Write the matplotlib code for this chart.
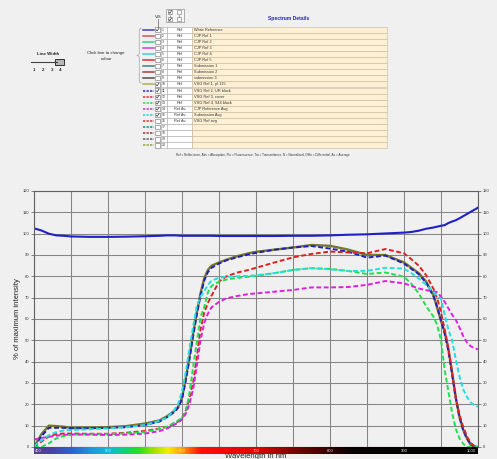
import matplotlib
matplotlib.use('Agg')
import matplotlib.pyplot as plt
from matplotlib.patches import Rectangle, PathPatch
from matplotlib.path import Path
from matplotlib.colors import LinearSegmentedColormap
import numpy as np

plt.rcParams['font.family'] = ['Liberation Sans', 'DejaVu Sans']

# ---------------- data ----------------
wavelength = [400, 410, 420, 430, 440, 450, 475, 500, 525, 550, 570, 580, 590, 595,
              600, 605, 610, 615, 620, 625, 630, 635, 640, 650, 660, 675, 690, 700,
              725, 750, 775, 800, 825, 850, 875, 900, 910, 920, 930, 940, 945, 950,
              955, 960, 965, 970, 975, 980, 985, 990, 995, 1000]

white_reference = [102.5, 101.5, 100.0, 99.2, 99.0, 98.7, 98.5, 98.5, 98.6, 98.8, 99.0, 99.2, 99.2, 99.1,
                   99.0, 99.0, 99.0, 99.0, 99.0, 99.0, 99.0, 99.0, 99.0, 98.9, 98.9, 98.9, 98.9, 98.9,
                   98.9, 99.0, 99.0, 99.2, 99.5, 99.7, 100.1, 100.5, 100.8, 101.4, 102.3, 102.9, 103.3, 103.7,
                   104.0, 105.0, 105.7, 106.3, 107.2, 108.2, 109.2, 110.2, 111.2, 112.2]

vsg_ref1 = [0, 6, 10, 9.8, 9.5, 9.0, 9.0, 9.3, 9.8, 11.0, 12.5, 14.5, 17.0, 19.0,
            23, 32, 42, 53, 63, 72, 79, 83, 85, 86.5, 87.8, 89.5, 90.8, 91.5,
            92.5, 93.5, 94.7, 94.3, 92.5, 90.0, 90.0, 86.5, 84, 81.5, 77.5, 71, 65, 59,
            54, 46, 35, 23, 14, 8, 4, 1, 0.1, 0]

vsg_ref2 = [0, 5, 9, 9, 9, 8.8, 8.8, 9.0, 9.3, 10.3, 12.0, 14.0, 16.5, 18.5,
            22.5, 31, 41, 52, 62, 71, 78, 82, 84, 86, 87.5, 89, 90.3, 91,
            92.5, 93.5, 94.2, 93.0, 91.5, 88.8, 89.7, 86, 83.5, 81, 77, 70.5, 65.5, 59.5,
            53, 45, 34, 23, 14, 8, 4, 1.5, 0.3, 0]

vsg_ref3 = [0, 2.5, 5, 6, 6.3, 6.3, 6.2, 6.2, 6.7, 7.5, 8.7, 9.5, 11, 12,
            13.5, 17, 23, 30, 42, 55, 63, 67.5, 71, 77.5, 80, 81.8, 83, 84,
            86.5, 88.9, 90.5, 91.6, 91.2, 90.8, 92.8, 90.8, 88, 85, 80.5, 74, 69.5, 63,
            55, 46, 35, 23, 15, 9.5, 5, 2, 0.5, 0]

vsg_ref4 = [0, 0, 1.7, 4, 5.2, 5.7, 6, 6, 6.4, 7, 8.5, 9.5, 11.5, 12.5,
            13.5, 16.5, 25, 37.5, 49, 61, 65.5, 72.5, 75.5, 77.5, 78.5, 79.3, 79.8, 80.2,
            81.5, 83, 83.8, 83.5, 82.5, 81.1, 81.8, 79.8, 76.5, 72, 66, 61, 57, 50,
            36, 26, 16, 8.5, 4, 1.5, 0, 0, 0, 0]

submission_avg = [0.5, 3, 5.5, 7, 7.7, 8, 8.3, 8.7, 9.3, 10.3, 12.3, 13.8, 17.5, 20.5,
                  26, 35, 46, 56.4, 66, 70.5, 73, 76, 78, 79.3, 79.8, 80, 80.2, 80.5,
                  81.5, 83, 83.8, 83.3, 82.5, 82.6, 84, 83.6, 81.5, 79, 76, 72.5, 71, 69.5,
                  62, 55, 50, 41, 33, 27, 23.5, 21, 19.5, 18.9]

cjp_reference_avg = [3.5, 4.2, 4.8, 5.3, 5.7, 5.9, 5.8, 5.6, 5.8, 6.3, 7.5, 8.7, 10.5, 11.5,
                     13, 15.5, 20, 27, 38, 50, 58, 62.5, 65.5, 68, 69.7, 70.8, 71.7, 72,
                     72.8, 73.6, 74.8, 74.8, 75, 76, 77.8, 76.7, 75.5, 74.3, 73.5, 73, 72.5, 70.5,
                     68, 65, 62, 59.6, 56, 52, 49, 47.3, 46.3, 45.8]

row_numbers = list(range(1, 21))
row_types = ['Ref'] * 13 + ['Ref Av'] * 3 + [''] * 4
row_names = ['White Reference', 'CJP Ref 1', 'CJP Ref 2', 'CJP Ref 3', 'CJP Ref 4', 'CJP Ref 5',
             'Submission 1', 'Submission 2', 'submission 3', 'VSG Ref 1, pl 115',
             'VSG Ref 2, UR block', 'VSG Ref 3, cover', 'VSG Ref 4, 944 block',
             'CJP Reference Avg', 'Submission Avg', 'VSG Ref avg', '', '', '', '']
row_checked = [1, 0, 0, 0, 0, 0, 0, 0, 0, 1, 1, 1, 1, 1, 1, 0, 0, 0, 0, 0]
row_colors = ['#4040b0', '#e05050', '#40d080', '#d040d0', '#40d0d0', '#e03030',
              '#408080', '#a04040', '#505050', '#b0b050',
              '#3030c0', '#e03030', '#30d060', '#d030d0', '#30d0d0', '#e03030',
              '#308080', '#a03030', '#606060', '#90a040']

y_ticks = list(range(0, 121, 10))
x_grid = list(range(400, 1001, 50))
spectrum_labels = [400, 500, 600, 700, 800, 900, 1000]

# ---------------- figure ----------------
W, H = 497, 459
BG = '#f0f0f0'
fig = plt.figure(figsize=(W / 100, H / 100), dpi=100, facecolor=BG)

ov = fig.add_axes([0, 0, 1, 1])
ov.set_xlim(0, W)
ov.set_ylim(H, 0)
ov.axis('off')

# line width control
ov.text(48, 54, 'Line Width', fontsize=3.2, fontweight='bold', ha='center', va='center', color='#222')
ov.plot([31, 57], [62.3, 62.3], color='#404040', lw=0.8)
ov.add_patch(Rectangle((55, 59.3), 9, 5.7, facecolor='#b8b8b8', edgecolor='#303030', lw=0.7))
for xx, lab in zip([34.3, 42.7, 51.7, 60], ['1', '2', '3', '4']):
    ov.text(xx, 70, lab, fontsize=3.2, fontweight='bold', ha='center', va='center', color='#222')

ov.text(106, 52.7, 'Click line to change', fontsize=3.2, ha='center', va='center', color='#222')
ov.text(107, 59, 'colour', fontsize=3.2, ha='center', va='center', color='#222')

# brace
verts = [(141.5, 28), (139.3, 28), (139.3, 30.5), (139.3, 53), (139.3, 55.5), (136.8, 55.5),
         (139.3, 55.5), (139.3, 58), (139.3, 81), (139.3, 83), (141.5, 83)]
codes = [Path.MOVETO, Path.CURVE3, Path.CURVE3, Path.LINETO, Path.CURVE3, Path.CURVE3,
         Path.CURVE3, Path.CURVE3, Path.LINETO, Path.CURVE3, Path.CURVE3]
ov.add_patch(PathPatch(Path(verts, codes), facecolor='none', edgecolor='#b0b0b0', lw=0.6))

# header
ov.text(158.7, 16.5, 'VIS', fontsize=3, ha='center', va='center', color='#222')
ov.plot([157.7, 157.7], [18.5, 26.5], color='#606060', lw=0.5)
ov.add_patch(Rectangle((165.5, 8.8), 18, 13.2, facecolor='#f8f8f8', edgecolor='#909090', lw=0.5))


def checkbox(x, y, s, checked):
    ov.add_patch(Rectangle((x, y), s, s, facecolor='white', edgecolor='#707070', lw=0.4))
    if checked:
        ov.plot([x + 0.8, x + 1.8, x + s - 0.7], [y + s * 0.55, y + s - 0.8, y + 0.8],
                color='#303030', lw=0.5)


for gx, chk in [(168, 1), (176.8, 0)]:
    checkbox(gx, 10, 4.2, chk)
    ov.plot([gx + 2.1, gx + 2.1], [14.6, 16.6], color='#606060', lw=0.4)
    checkbox(gx, 17.2, 4.2, chk)

ov.text(288.5, 18.3, 'Spectrum Details', fontsize=3.6, fontweight='bold', ha='center',
        va='center', color='#2020c0')

# table rows
row_h = 6.1
for i in range(20):
    top = 26.5 + i * row_h
    cy = top + row_h / 2
    ls = '-' if i < 10 else (0, (1.5, 0.8))
    ov.plot([143, 153.5], [cy, cy], color=row_colors[i], lw=1.1, ls=ls)
    checkbox(155.4, top + 0.9, 4.3, row_checked[i])
    ov.add_patch(Rectangle((161, top), 6, row_h, facecolor='white', edgecolor='#a8a8a8', lw=0.4))
    ov.add_patch(Rectangle((167, top), 25, row_h, facecolor='white', edgecolor='#a8a8a8', lw=0.4))
    ov.add_patch(Rectangle((192, top), 195, row_h, facecolor='#fdf0d4', edgecolor='#c8b898', lw=0.4))
    ov.text(162, cy, str(row_numbers[i]), fontsize=2.5, ha='left', va='center', color='#333')
    ov.text(179.5, cy, row_types[i], fontsize=2.8, ha='center', va='center', color='#333')
    ov.text(193.5, cy, row_names[i], fontsize=2.8, ha='left', va='center', color='#333')

ov.text(263, 155, 'Ref = Reflectance, Abs = Absorption, Flu = Fluorescence, Tra = Transmittance, '
        'N = Normalised, Diffn = Differential, Av = Average', fontsize=2.2, ha='center',
        va='center', color='#333')

# ---------------- main chart ----------------
ax = fig.add_axes([34 / W, 12 / H, 444 / W, 256 / H])
ax.set_facecolor(BG)
ax.set_xlim(400, 1000)
ax.set_ylim(0, 120)
ax.set_xticks(x_grid)
ax.set_xticklabels([])
ax.set_yticks(y_ticks)
ax.grid(True, color='#858585', lw=0.75)
ax.set_axisbelow(True)
ax.tick_params(axis='x', length=0)
ax.tick_params(axis='y', labelsize=3, length=2, width=0.5, pad=1.5, right=True, labelright=True,
               color='#555', labelcolor='#333')
for sp in ax.spines.values():
    sp.set_color('#606060')
    sp.set_linewidth(0.8)

dash = (0, (2.5, 1.3))
ax.plot(wavelength, white_reference, color='#2020c8', lw=1.5)
ax.plot(wavelength, vsg_ref1, color='#77772e', lw=1.7)
ax.plot(wavelength, vsg_ref2, color='#2020b8', lw=1.4, ls=dash)
ax.plot(wavelength, vsg_ref3, color='#e02020', lw=1.4, ls=dash)
ax.plot(wavelength, vsg_ref4, color='#20e050', lw=1.4, ls=dash)
ax.plot(wavelength, cjp_reference_avg, color='#e020e0', lw=1.4, ls=dash)
ax.plot(wavelength, submission_avg, color='#20e0e0', lw=1.4, ls=dash)

fig.text(18 / W, 1 - 319 / H, '% of maximum intensity', rotation=90, fontsize=5.5,
         ha='center', va='center', color='#222')
fig.text(256 / W, 1 - 453.5 / H, 'Wavelength in nm', fontsize=5.5, ha='center', va='top',
         color='#222')

# spectrum bar
sb = fig.add_axes([34 / W, 5 / H, 444 / W, 7 / H])
stops = [(0.0, '#5b3f8f'), (0.035, '#4a40a8'), (0.083, '#3060d0'), (0.133, '#1a9ee0'),
         (0.167, '#10b8d8'), (0.2, '#10d080'), (0.233, '#20e020'), (0.267, '#a0e000'),
         (0.3, '#f0f000'), (0.333, '#ffa000'), (0.35, '#ff6000'), (0.375, '#ff1000'),
         (0.5, '#e00000'), (0.583, '#800000'), (0.667, '#300000'), (0.717, '#080000'),
         (1.0, '#000000')]
cmap = LinearSegmentedColormap.from_list('spec', stops)
sb.imshow(np.linspace(0, 1, 600).reshape(1, -1), cmap=cmap, aspect='auto',
          extent=[400, 1000, 0, 1])
sb.set_xlim(400, 1000)
sb.axis('off')
for lab in spectrum_labels:
    if lab == 400:
        sb.text(401, 0.5, str(lab), fontsize=3, ha='left', va='center', color='#e8e8e8')
    elif lab == 1000:
        sb.text(997, 0.5, str(lab), fontsize=3, ha='right', va='center', color='#e8e8e8')
    else:
        sb.text(lab, 0.5, str(lab), fontsize=3, ha='center', va='center', color='#e8e8e8')

fig.savefig('out.png', dpi=100, facecolor=BG)
